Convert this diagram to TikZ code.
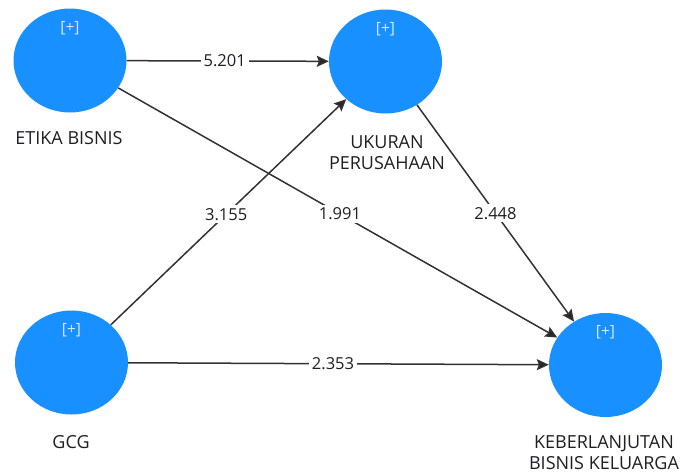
\documentclass[tikz,border=0pt]{standalone}
\usepackage{fontspec}
\setmainfont{Open Sans}
\usetikzlibrary{arrows.meta,shapes.geometric}
\definecolor{latentblue}{RGB}{24,144,255}
\definecolor{plusblue}{RGB}{215,235,255}
\definecolor{pathgray}{RGB}{50,50,50}
\definecolor{labeltext}{RGB}{30,30,38}
\tikzset{
  latent/.style={ellipse, fill=latentblue, minimum width=113pt, minimum height=104pt, inner sep=0pt},
  plus/.style={text=plusblue, font=\fontsize{15.5}{17}\selectfont},
  varname/.style={text=labeltext, font=\fontsize{18}{21}\selectfont, align=center},
  coef/.style={fill=white, text=labeltext, inner sep=3pt, font=\fontsize{16.5}{18}\selectfont},
  path/.style={draw=pathgray, line width=1.5pt, -{Stealth[length=12pt,width=11pt,inset=2pt,fill=black!85]}}
}
\begin{document}
\begin{tikzpicture}[x=1pt,y=-1pt]
\useasboundingbox (0,0) rectangle (681,474);
% latent variables
\node[latent] (eb) at (70,60.5) {};
\node[latent] (up) at (385.5,61.5) {};
\node[latent] (gcg) at (71.5,362.5) {};
\node[latent] (kbk) at (605.5,365) {};
% expand markers
\node[plus] (ebp) at (70,28) {[+]};
\node[plus] (upp) at (385.5,29) {[+]};
\node[plus] (gcgp) at (71.5,330) {[+]};
\node[plus] (kbkp) at (605.5,332) {[+]};
% variable names
\node[varname] (ebl) at (69,138) {ETIKA BISNIS};
\node[varname] (upl) at (387,152.5) {UKURAN\\PERUSAHAAN};
\node[varname] (gcgl) at (71,442) {GCG};
\node[varname] (kbkl) at (604,453) {KEBERLANJUTAN\\BISNIS KELUARGA};
% structural paths with coefficients
\draw[path] (eb) -- node[coef, pos=0.485] {5.201} (up);
\draw[path] (gcg) -- node[coef, pos=0.49] {3.155} (up);
\draw[path] (eb) -- node[coef, pos=0.505] {1.991} (kbk);
\draw[path] (up) -- node[coef, pos=0.5] {2.448} (kbk);
\draw[path] (gcg) -- node[coef, pos=0.487] {2.353} (kbk);
\end{tikzpicture}
\end{document}
